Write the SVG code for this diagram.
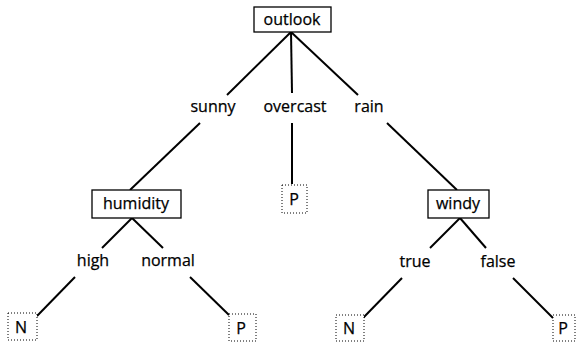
<svg xmlns="http://www.w3.org/2000/svg" width="576" height="343" viewBox="0 0 576 343">
<style>
text{font-family:"Open Sans","DejaVu Sans",sans-serif;font-size:16px;fill:#000;text-anchor:middle;stroke:#000;stroke-width:0.25}
.box{fill:#fff;stroke:#000;stroke-width:1.3}
.leaf{fill:#fff;stroke:#000;stroke-width:1;stroke-dasharray:1 2}
.e{stroke:#000;stroke-width:2;fill:none}
</style>
<rect width="576" height="343" fill="#fff"/>
<g id="connectors">
<line class="e" x1="291" y1="32" x2="227" y2="95"/>
<line class="e" x1="291" y1="32" x2="292" y2="93"/>
<line class="e" x1="291" y1="32" x2="358" y2="95"/>
<line class="e" x1="200" y1="123" x2="130" y2="190"/>
<line class="e" x1="292" y1="123" x2="292" y2="184"/>
<line class="e" x1="387" y1="123" x2="457" y2="190"/>
<line class="e" x1="132" y1="218" x2="102" y2="248"/>
<line class="e" x1="132" y1="218" x2="163" y2="248"/>
<line class="e" x1="75" y1="277" x2="37" y2="316"/>
<line class="e" x1="190" y1="277" x2="229" y2="315"/>
<line class="e" x1="460" y1="218" x2="430" y2="248"/>
<line class="e" x1="460" y1="218" x2="486" y2="248"/>
<line class="e" x1="402" y1="278" x2="363" y2="318"/>
<line class="e" x1="513" y1="278" x2="553" y2="318"/>
<text x="213" y="112">sunny</text>
<text x="295" y="112">overcast</text>
<text x="369" y="112">rain</text>
<text x="93" y="266">high</text>
<text x="168" y="266">normal</text>
<text x="415" y="267">true</text>
<text x="498" y="267">false</text>
</g>
<g id="outlook"><rect class="box" x="254" y="7" width="77" height="25"/><text x="292" y="25">outlook</text></g>
<g id="humidity"><rect class="box" x="92" y="190" width="89" height="28"/><text x="136" y="209">humidity</text></g>
<g id="windy"><rect class="box" x="428" y="190" width="61" height="28"/><text x="458" y="209">windy</text></g>
<g id="p_overcast"><rect class="leaf" x="282" y="185" width="25" height="28"/><text x="294" y="205">P</text></g>
<g id="n_high"><rect class="leaf" x="8" y="313" width="29" height="27"/><text x="21" y="333">N</text></g>
<g id="p_normal"><rect class="leaf" x="229" y="314" width="27" height="27"/><text x="241" y="334">P</text></g>
<g id="n_true"><rect class="leaf" x="336" y="315" width="28" height="26"/><text x="349" y="334">N</text></g>
<g id="p_false"><rect class="leaf" x="553" y="315" width="22" height="26"/><text x="563" y="334">P</text></g>
</svg>
